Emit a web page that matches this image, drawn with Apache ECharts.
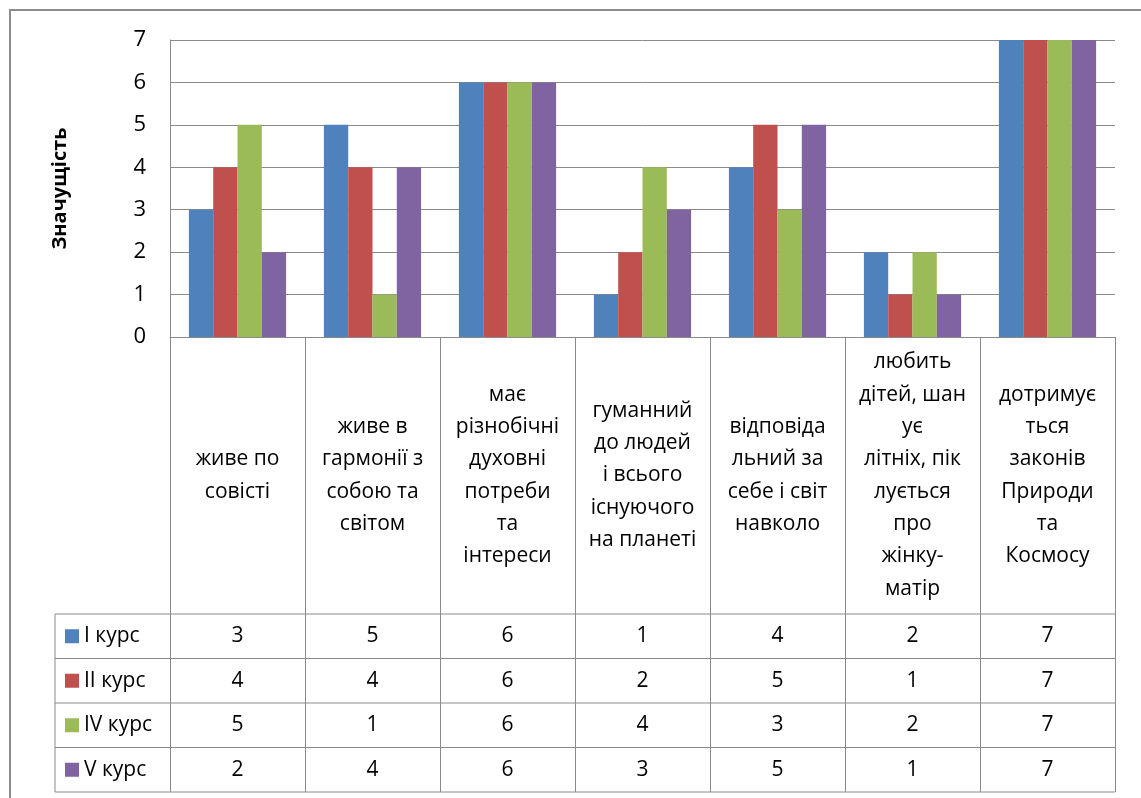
<!DOCTYPE html>
<html>
<head>
<meta charset="utf-8">
<script src="https://cdn.jsdelivr.net/npm/echarts@6/dist/echarts.min.js"></script>
<style>
html,body{margin:0;padding:0;background:#fff;}
#c{width:1141px;height:798px;}
</style>
</head>
<body>
<div id="c"></div>
<script>
const categories = [
  'живе по\nсовісті',
  'живе в\nгармонії з\nсобою та\nсвітом',
  'має\nрізнобічні\nдуховні\nпотреби\nта\nінтереси',
  'гуманний\nдо людей\nі всього\nіснуючого\nна планеті',
  'відповіда\nльний за\nсебе і світ\nнавколо',
  'любить\nдітей, шан\nує\nлітніх, пік\nлується\nпро\nжінку-\nматір',
  'дотримує\nться\nзаконів\nПрироди\nта\nКосмосу'
];
const seriesNames = ['I курс', 'II курс', 'IV курс', 'V курс'];
const kurs1 = [3, 5, 6, 1, 4, 2, 7];
const kurs2 = [4, 4, 6, 2, 5, 1, 7];
const kurs4 = [5, 1, 6, 4, 3, 2, 7];
const kurs5 = [2, 4, 6, 3, 5, 1, 7];
const yMin = 0, yMax = 7, yStep = 1;
const yTitle = 'Значущість';

const seriesData = [kurs1, kurs2, kurs4, kurs5];
const colors = ['#4F81BD', '#C0504D', '#9BBB59', '#8064A2'];
const FONT = '"Open Sans", "Noto Sans", sans-serif';
const LINE = '#8a8a8a';
const FS = 21;

// layout
const G = {left: 170, top: 40, width: 945, height: 297};
const gridBottom = G.top + G.height;
const labelAreaH = 277;
const rowH = 44.5;
const tableTop = gridBottom + labelAreaH;
const tableLeft = 55;
const tableRight = G.left + G.width;
const tableBottom = tableTop + rowH * seriesData.length;

const chart = echarts.init(document.getElementById('c'));

const xAxes = [{
  type: 'category',
  data: categories,
  gridIndex: 0,
  position: 'bottom',
  axisLine: {show: true, lineStyle: {color: LINE, width: 1}},
  axisTick: {show: true, length: tableBottom - gridBottom, lineStyle: {color: LINE, width: 1}},
  axisLabel: {
    interval: 0, color: '#000', fontFamily: FONT, fontSize: FS, lineHeight: 32.3,
    margin: labelAreaH / 2, verticalAlign: 'middle', align: 'center'
  },
  splitLine: {show: false}
}];
seriesData.forEach((row, i) => {
  xAxes.push({
    type: 'category',
    data: categories,
    gridIndex: 0,
    position: 'bottom',
    offset: labelAreaH + i * rowH,
    axisLine: {show: false},
    axisTick: {show: false},
    axisLabel: {
      interval: 0, color: '#000', fontFamily: FONT, fontSize: FS,
      margin: rowH / 2, verticalAlign: 'middle', align: 'center',
      formatter: (v, idx) => String(row[idx])
    },
    splitLine: {show: false}
  });
});

const graphics = [
  {type: 'rect', shape: {x: 10, y: 10, width: 1300, height: 1000},
   style: {fill: 'none', stroke: '#8c8c8c', lineWidth: 2}, silent: true}
];
for (let i = 0; i <= seriesData.length; i++) {
  const y = tableTop + i * rowH;
  graphics.push({type: 'line', shape: {x1: tableLeft, y1: y, x2: tableRight, y2: y},
    style: {stroke: LINE, lineWidth: 1}, silent: true});
}
graphics.push({type: 'line', shape: {x1: tableLeft, y1: tableTop, x2: tableLeft, y2: tableBottom},
  style: {stroke: LINE, lineWidth: 1}, silent: true});

chart.setOption({
  animation: false,
  color: colors,
  grid: {left: G.left, top: G.top, width: G.width, height: G.height, containLabel: false},
  legend: {
    data: seriesNames,
    orient: 'vertical',
    left: 65,
    top: tableTop + rowH / 2 - 11,
    padding: 0,
    itemGap: rowH - 22,
    itemWidth: 14,
    itemHeight: 14,
    icon: 'rect',
    textStyle: {color: '#000', fontFamily: FONT, fontSize: FS, lineHeight: 22}
  },
  xAxis: xAxes,
  yAxis: {
    type: 'value',
    min: yMin, max: yMax, interval: yStep,
    name: yTitle,
    nameLocation: 'middle',
    nameRotate: 90,
    nameGap: 100,
    nameTextStyle: {color: '#000', fontFamily: FONT, fontSize: 20, fontWeight: 'bold'},
    axisLine: {show: true, lineStyle: {color: LINE, width: 1}},
    axisTick: {show: false},
    axisLabel: {color: '#000', fontFamily: FONT, fontSize: 22, margin: 24},
    splitLine: {show: true, lineStyle: {color: LINE, width: 1}}
  },
  series: seriesData.map((d, i) => ({
    name: seriesNames[i],
    type: 'bar',
    xAxisIndex: 0,
    data: d,
    barGap: '0%',
    barCategoryGap: '28%',
    itemStyle: {color: colors[i]}
  })),
  graphic: graphics
});
</script>
</body>
</html>
